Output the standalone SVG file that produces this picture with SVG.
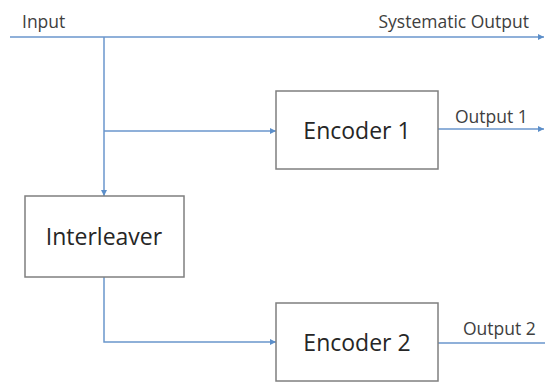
<svg xmlns="http://www.w3.org/2000/svg" width="545" height="383" viewBox="0 0 545 383">
<defs>
<style>
.box{fill:#fff;stroke:#7f7f7f;stroke-width:1.5}
.btxt{font-family:"Open Sans","Liberation Sans",sans-serif;font-size:23px;fill:#262626;text-anchor:middle}
.lbl{font-family:"Open Sans","Liberation Sans",sans-serif;font-size:17.5px;fill:#404040}
.ln{stroke:#6a96cc;stroke-width:1.5;fill:none}
</style>
<marker id="ar" viewBox="0 0 10 10" refX="10" refY="5" markerWidth="6" markerHeight="6" orient="auto" markerUnits="userSpaceOnUse">
<path d="M0,0 L10,5 L0,10 z" fill="#5b8ec9"/>
</marker>
</defs>
<rect width="545" height="383" fill="#fff"/>
<g id="connectors">
<line class="ln" x1="10" y1="37" x2="544" y2="37" marker-end="url(#ar)"/>
<line class="ln" x1="104" y1="37" x2="104" y2="196" marker-end="url(#ar)"/>
<line class="ln" x1="104" y1="131" x2="276" y2="131" marker-end="url(#ar)"/>
<line class="ln" x1="438" y1="129" x2="544" y2="129" marker-end="url(#ar)"/>
<polyline class="ln" points="104,277 104,342 276,342" marker-end="url(#ar)"/>
<line class="ln" x1="438" y1="343" x2="545" y2="343"/>
</g>
<g id="labels">
<text class="lbl" x="22" y="28">Input</text>
<text class="lbl" x="529" y="28" text-anchor="end">Systematic Output</text>
<text class="lbl" x="455" y="123">Output 1</text>
<text class="lbl" x="463" y="335">Output 2</text>
</g>
<g id="encoder1">
<rect class="box" x="276" y="91" width="162" height="78"/>
<text class="btxt" x="357" y="139">Encoder 1</text>
</g>
<g id="interleaver">
<rect class="box" x="25" y="196" width="159" height="81"/>
<text class="btxt" x="104" y="245">Interleaver</text>
</g>
<g id="encoder2">
<rect class="box" x="276" y="303" width="162" height="78"/>
<text class="btxt" x="357" y="351">Encoder 2</text>
</g>
</svg>
